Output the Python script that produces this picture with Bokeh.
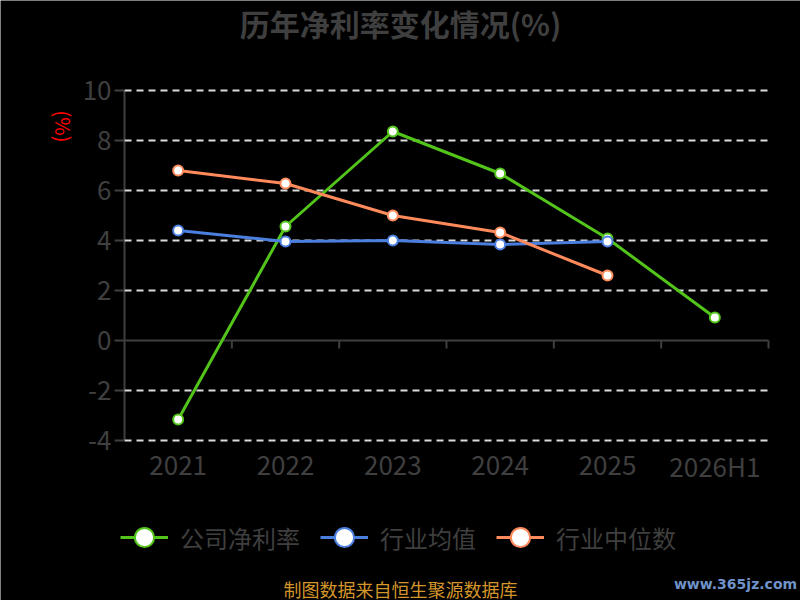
import math
from bokeh.plotting import figure
from bokeh.models import (Range1d, FixedTicker, LinearAxis, Legend, LegendItem,
                          Label, ColumnDataSource)
from bokeh.core.properties import value
from bokeh.embed import file_html
from bokeh.resources import INLINE

categories = ["2021", "2022", "2023", "2024", "2025", "2026H1"]
company = [-3.16, 4.56, 8.36, 6.68, 4.08, 0.92]
industry_avg = [4.40, 3.96, 4.00, 3.84, 3.96]
industry_median = [6.80, 6.28, 5.00, 4.32, 2.60]
y_ticks = [-4, -2, 0, 2, 4, 6, 8, 10]

title_text = "历年净利率变化情况(%)"
unit_text = "(%)"
series_names = ["公司净利率", "行业均值", "行业中位数"]
colors = ["#52c41a", "#4a7fdf", "#ff8a5b"]
source_text = "制图数据来自恒生聚源数据库"
watermark = "www.365jz.com"

FONT = "Noto Sans CJK SC"
GREY = "#3f3f3f"

n = len(categories)
xs = [i + 0.5 for i in range(n)]
boundaries = [i + 1 for i in range(n)]
y_min, y_max = min(y_ticks), max(y_ticks)

# layout: value area 644x350 px starting at (124, 90); frame spans the whole canvas
cat_px = 644 / n
unit_px = 350 / (y_max - y_min)
x_start = -124 / cat_px
x_end = 676 / cat_px
y_top = y_max + 90 / unit_px
y_bottom = y_max - 510 / unit_px

p = figure(width=800, height=600, output_backend="svg", toolbar_location=None,
           x_range=Range1d(x_start, x_end), y_range=Range1d(y_bottom, y_top),
           min_border_left=0, min_border_right=0, min_border_top=0,
           min_border_bottom=0, background_fill_color="black",
           border_fill_color="black", outline_line_color=None)
p.xaxis.visible = False
p.yaxis.visible = False
p.xgrid.visible = False
p.ygrid.visible = False

# y axis fixed at the start of the category range
yax = LinearAxis(ticker=FixedTicker(ticks=y_ticks), fixed_location=0,
                 major_label_overrides={t: str(t) for t in y_ticks})
yax.axis_line_color = None
yax.major_tick_line_color = GREY
yax.major_tick_line_width = 2
yax.major_tick_out = 10
yax.major_tick_in = 0
yax.minor_tick_line_color = None
yax.major_label_text_color = GREY
yax.major_label_text_font = FONT
yax.major_label_text_font_size = "26px"
yax.major_label_standoff = 3
p.add_layout(yax, "left")
p.segment(x0=[0], x1=[0], y0=[y_min], y1=[y_max], line_color=GREY, line_width=2)

# dashed horizontal gridlines
grid_vals = [t for t in y_ticks if t != 0]
p.segment(x0=[0] * len(grid_vals), x1=[n] * len(grid_vals), y0=grid_vals, y1=grid_vals,
          line_color="#dcdcdc", line_width=2, line_dash="7 5")

# zero line and its boundary ticks
p.segment(x0=[0], x1=[n], y0=[0], y1=[0], line_color=GREY, line_width=2)
p.segment(x0=boundaries, y0=[0] * n, x1=boundaries, y1=[-8 / unit_px] * n,
          line_color=GREY, line_width=2)

# category labels
p.text(x=xs, y=[y_min - 1.0] * n, text=categories, text_color=GREY,
       text_font=value(FONT), text_font_size="26px",
       text_align="center", text_baseline="middle")

items = []
for name, vals, col in zip(series_names, [company, industry_avg, industry_median], colors):
    src = ColumnDataSource(dict(x=xs[:len(vals)], y=vals))
    ln = p.line("x", "y", source=src, line_color=col, line_width=3)
    sc = p.scatter("x", "y", source=src, size=10, fill_color="white",
                   line_color=col, line_width=2)
    items.append(LegendItem(label=name, renderers=[ln, sc]))

legend = Legend(items=items, orientation="horizontal", location=(120, 38),
                background_fill_color="black", background_fill_alpha=0,
                border_line_color=None,
                label_text_color=GREY, label_text_font=FONT,
                label_text_font_size="24px", glyph_width=48, glyph_height=50,
                spacing=20, label_standoff=12, padding=0, margin=0)
p.add_layout(legend)

p.add_layout(Label(x=400, y=578, x_units="screen", y_units="screen",
                   text=title_text, text_color=GREY, text_font=FONT,
                   text_font_size="30px", text_font_style="bold",
                   text_align="center", text_baseline="middle"))
p.add_layout(Label(x=63, y=474, x_units="screen", y_units="screen",
                   text=unit_text, angle=-math.pi / 2, text_color="red",
                   text_font=FONT, text_font_size="20px",
                   text_align="center", text_baseline="middle"))
p.add_layout(Label(x=400, y=12, x_units="screen", y_units="screen",
                   text=source_text, text_color="#d4962a",
                   text_font=FONT, text_font_size="18px",
                   text_align="center", text_baseline="middle"))
p.add_layout(Label(x=735, y=17, x_units="screen", y_units="screen",
                   text=watermark, text_color="#6f93c8",
                   text_font="DejaVu Sans", text_font_size="14px", text_font_style="bold",
                   text_align="center", text_baseline="middle"))

open("out.html", "w").write(file_html(p, INLINE))
